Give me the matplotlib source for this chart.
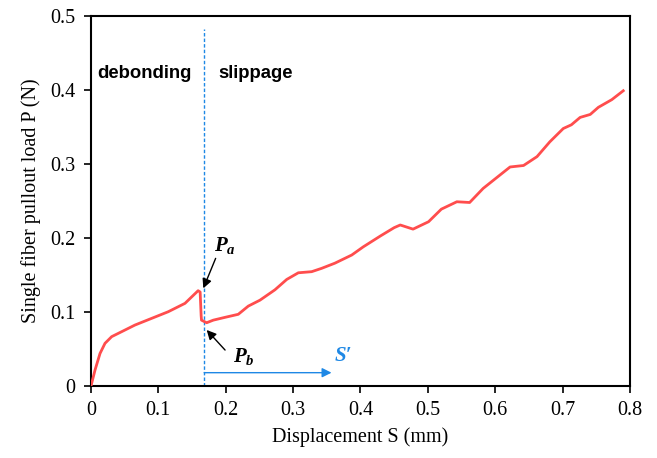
import matplotlib
matplotlib.use("Agg")
import matplotlib.pyplot as plt

plt.rcParams['mathtext.fontset'] = 'custom'
plt.rcParams['mathtext.rm'] = 'Liberation Serif'
plt.rcParams['mathtext.it'] = 'Liberation Serif:italic'
plt.rcParams['mathtext.bf'] = 'Liberation Serif:bold'
plt.rcParams['mathtext.bfit'] = 'Liberation Serif:italic:bold'

# Data
disp = [0.0, 0.006, 0.0134, 0.0208, 0.0307, 0.0455, 0.0653, 0.090, 0.1147, 0.1395,
        0.159, 0.162, 0.1635, 0.164, 0.1717, 0.1815, 0.199, 0.2186, 0.2335, 0.2508,
        0.273, 0.2905, 0.3077, 0.3275, 0.3423, 0.362, 0.387, 0.404, 0.43, 0.45,
        0.459, 0.478, 0.501, 0.520, 0.543, 0.562, 0.582, 0.622, 0.642, 0.662,
        0.681, 0.701, 0.713, 0.726, 0.741, 0.753, 0.773, 0.790]
load = [0.0, 0.0216, 0.044, 0.0577, 0.0667, 0.0734, 0.0824, 0.0914, 0.1004, 0.1117,
        0.1288, 0.127, 0.095, 0.089, 0.0855, 0.089, 0.0928, 0.0969, 0.108, 0.116,
        0.130, 0.144, 0.153, 0.1545, 0.159, 0.166, 0.177, 0.188, 0.203, 0.214,
        0.2176, 0.212, 0.222, 0.239, 0.249, 0.248, 0.267, 0.296, 0.298, 0.310,
        0.330, 0.348, 0.353, 0.363, 0.367, 0.3766, 0.387, 0.399]

x_ticks = [0, 0.1, 0.2, 0.3, 0.4, 0.5, 0.6, 0.7, 0.8]
x_tick_labels = ['0', '0.1', '0.2', '0.3', '0.4', '0.5', '0.6', '0.7', '0.8']
y_ticks = [0, 0.1, 0.2, 0.3, 0.4, 0.5]
y_tick_labels = ['0', '0.1', '0.2', '0.3', '0.4', '0.5']

s_debond = 0.168
s_prime_end = 0.357

red = '#FF4D4D'
blue = '#1E88E5'

fig = plt.figure(figsize=(6.57, 4.58), dpi=100)
ax = fig.add_axes([0.1385, 0.1572, 0.8204, 0.8078])

ax.plot(disp, load, color=red, lw=2.0, solid_joinstyle='round', zorder=3)

ax.plot([s_debond, s_debond], [0, 0.482], color=blue, lw=1.0, ls=(0, (2.5, 1.5)), zorder=2)

ax.annotate('', xy=(s_prime_end, 0.018), xytext=(s_debond, 0.018),
            arrowprops=dict(arrowstyle='-|>', color=blue, lw=1.0, mutation_scale=14,
                            shrinkA=0, shrinkB=0))
ax.text(0.362, 0.040, "S\u2032", color=blue, fontsize=15, family='Liberation Serif',
        weight='bold', style='italic', ha='left', va='center')

ax.annotate('', xy=(0.1667, 0.132), xytext=(0.185, 0.1725),
            arrowprops=dict(arrowstyle='-|>', color='black', lw=1.0, mutation_scale=14,
                            shrinkA=0, shrinkB=0))
ax.text(0.183, 0.190, r"$\mathbfit{P}_{\mathbfit{a}}$", fontsize=15, ha='left', va='center')

ax.annotate('', xy=(0.1717, 0.0757), xytext=(0.199, 0.0486),
            arrowprops=dict(arrowstyle='-|>', color='black', lw=1.0, mutation_scale=14,
                            shrinkA=0, shrinkB=0))
ax.text(0.211, 0.040, r"$\mathbfit{P}_{\mathbfit{b}}$", fontsize=15, ha='left', va='center')

ax.text(0.0095, 0.423, 'debonding', family='Liberation Sans', weight='bold', fontsize=13.3,
        ha='left', va='center')
ax.text(0.189, 0.423, 'slippage', family='Liberation Sans', weight='bold', fontsize=13.3,
        ha='left', va='center')

ax.set_xlim(0, 0.8)
ax.set_ylim(0, 0.5)
ax.set_xticks(x_ticks)
ax.set_xticklabels(x_tick_labels, family='Liberation Serif', fontsize=14.5)
ax.set_yticks(y_ticks)
ax.set_yticklabels(y_tick_labels, family='Liberation Serif', fontsize=14.5)
ax.tick_params(direction='out', length=5, width=1.2, pad=6)
for sp in ax.spines.values():
    sp.set_linewidth(1.5)
    sp.set_color('black')

ax.set_xlabel('Displacement S (mm)', family='Liberation Serif', fontsize=14.5, labelpad=5)
ax.set_ylabel('Single fiber pullout load P (N)', family='Liberation Serif', fontsize=14.5, labelpad=7)

fig.savefig('out.png', dpi=100)
